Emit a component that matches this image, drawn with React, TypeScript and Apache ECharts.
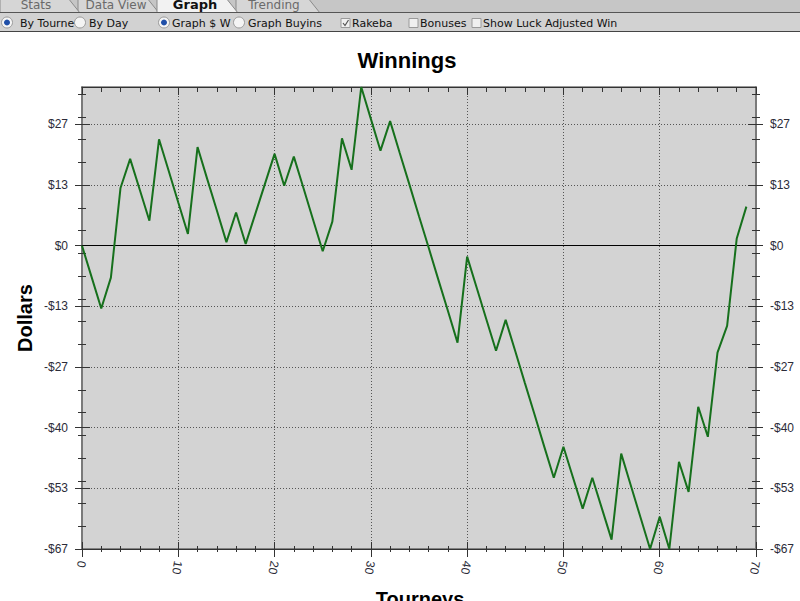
import React, { useEffect, useRef } from "react";
import * as echarts from "echarts";

const tourneys = [
  0, 1, 2, 3, 4, 5, 6, 7, 8, 9, 10, 11, 12, 13, 14, 15, 16, 17, 18, 19, 20, 21, 22, 23, 24,
  25, 26, 27, 28, 29, 30, 31, 32, 33, 34, 35, 36, 37, 38, 39, 40, 41, 42, 43, 44, 45, 46, 47,
  48, 49, 50, 51, 52, 53, 54, 55, 56, 57, 58, 59, 60, 61, 62, 63, 64, 65, 66, 67, 68, 69,
];
const winnings = [
  0, -6.9, -13.8, -7.0, 12.7, 19.1, 12.3, 5.5, 23.4, 16.5, 9.5, 2.6, 21.7, 14.7, 7.8, 0.8, 7.3,
  0.4, 7.0, 13.6, 20.2, 13.2, 19.6, 12.7, 5.7, -1.2, 5.3, 23.6, 16.7, 34.9, 27.9, 20.9, 27.4,
  20.4, 13.5, 6.5, -0.4, -7.4, -14.3, -21.3, -2.4, -9.3, -16.2, -23.1, -16.3, -23.2, -30.2,
  -37.1, -44.1, -51.0, -44.2, -51.0, -57.8, -51.0, -57.8, -64.6, -45.7, -52.7, -59.7, -66.67,
  -59.6, -66.67, -47.5, -54.1, -35.4, -42.0, -23.5, -17.6, 1.6, 8.6,
];
const majorY = [-66.67, -53.33, -40, -26.67, -13.33, 0, 13.33, 26.67];
const minorY = [
  -61.67, -56.67, -51.67, -46.67, -41.67, -36.67, -31.67, -26.67, -21.67, -16.67, -11.67,
  -6.67, -1.67, 3.33, 8.33, 13.33, 18.33, 23.33, 28.33, 33.33,
];
const tabs = ["Stats", "Data View", "Graph", "Trending"];
const optionLabels = [
  "By Tourne", "By Day", "Graph $ W", "Graph Buyins", "Rakeba", "Bonuses", "Show Luck Adjusted Win",
];

const X_MIN = 0;
const X_MAX = 70;

function fmtDollar(v: number) {
  const r = Math.round(Math.abs(v));
  return (v < 0 && r !== 0 ? "-" : "") + "$" + r;
}

export default function App() {
  const ref = useRef<HTMLDivElement>(null);
  useEffect(() => {
    if (!ref.current) return;
    const chart = echarts.init(ref.current, null, { renderer: "svg" });
    const yMin = Math.min(...winnings);
    const yMax = Math.max(...winnings);
    const tickColor = "#333";
    const labelFont = { fontFamily: "Liberation Sans, Arial", fontSize: 12, color: "#2b2b38" };

    const yBase = (pos: "left" | "right", custom: number[], len: number, inside: boolean, labels: boolean, line: boolean, split: boolean) => ({
      type: "value",
      position: pos,
      min: yMin,
      max: yMax,
      axisLine: { show: line, onZero: false, lineStyle: { color: "#7a7a7a", width: 2 } },
      axisTick: { show: true, inside, length: len, customValues: custom, lineStyle: { color: tickColor, width: 1 } },
      axisLabel: labels
        ? { show: true, customValues: custom, margin: 14, formatter: (v: number) => fmtDollar(v), ...labelFont }
        : { show: false },
      splitLine: split
        ? { show: true, lineStyle: { type: [1, 2], color: "#555", width: 1 } }
        : { show: false },
    });

    const xBase = (pos: "top" | "bottom", len: number, minorLen: number, inside: boolean, labels: boolean, split: boolean) => ({
      type: "value",
      position: pos,
      min: X_MIN,
      max: X_MAX,
      interval: 10,
      axisLine: { show: true, onZero: false, lineStyle: { color: "#333", width: 1 } },
      axisTick: { show: true, inside, length: len, lineStyle: { color: tickColor, width: 1 } },
      minorTick: { show: true, splitNumber: 5, length: minorLen, lineStyle: { color: tickColor, width: 1 } },
      axisLabel: labels
        ? { show: true, rotate: -100, margin: 12, ...labelFont, fontSize: 12 }
        : { show: false },
      splitLine: split
        ? { show: true, lineStyle: { type: [1, 2], color: "#555", width: 1 } }
        : { show: false },
    });

    // UI graphic (tab bar + options row)
    const g: any[] = [];
    g.push({ type: "rect", shape: { x: 0, y: 0, width: 800, height: 13 }, style: { fill: "#c6c6c6" }, silent: true });
    const tabX = [0, 78, 157, 236];
    const tabW = [80, 81, 81, 84];
    tabs.forEach((t, i) => {
      const x0 = tabX[i];
      const w = tabW[i];
      const active = t === "Graph";
      g.push({
        type: "polygon",
        shape: { points: [[x0, 13], [x0, -2], [x0 + w - 12, -2], [x0 + w, 13]] },
        style: { fill: active ? "#f2f2f2" : "#d6d6d6", stroke: "#8a8a8a", lineWidth: 1 },
        z: active ? 3 : 2 - i * 0.1,
        silent: true,
      });
    });
    const tabTextX = [36, 116, 195, 274];
    tabs.forEach((t, i) => {
      g.push({
        type: "text",
        x: tabTextX[i],
        y: 4.5,
        z: 5,
        style: {
          text: t,
          fill: t === "Graph" ? "#111" : "#6a6a6a",
          font: (t === "Graph" ? "bold 13px" : "12px") + " 'DejaVu Sans'",
          align: "center",
          verticalAlign: "middle",
        },
        silent: true,
      });
    });
    g.push({ type: "rect", shape: { x: 0, y: 13, width: 800, height: 18 }, style: { fill: "#d2d2d2" }, z: 4, silent: true });
    g.push({ type: "line", shape: { x1: 0, y1: 12.5, x2: 800, y2: 12.5 }, style: { stroke: "#555", lineWidth: 1 }, z: 6, silent: true });
    g.push({ type: "line", shape: { x1: 0, y1: 31.5, x2: 800, y2: 31.5 }, style: { stroke: "#444", lineWidth: 1 }, z: 6, silent: true });
    const radios = [
      { x: 7, on: true }, { x: 80, on: false }, { x: 164, on: true }, { x: 239, on: false },
    ];
    radios.forEach((r) => {
      g.push({ type: "circle", shape: { cx: r.x, cy: 22.5, r: 5.5 }, style: { fill: "#f4f4f4", stroke: "#9a9a9a", lineWidth: 1 }, z: 7, silent: true });
      if (r.on) g.push({ type: "circle", shape: { cx: r.x, cy: 22.5, r: 3 }, style: { fill: "#1f4fa8" }, z: 8, silent: true });
    });
    const checks = [{ x: 341, on: true }, { x: 409, on: false }, { x: 472, on: false }];
    checks.forEach((c) => {
      g.push({ type: "rect", shape: { x: c.x, y: 18.5, width: 9, height: 9 }, style: { fill: "#f0f0f0", stroke: "#9a9a9a", lineWidth: 1 }, z: 7, silent: true });
      if (c.on)
        g.push({
          type: "polyline",
          shape: { points: [[c.x + 2, 23], [c.x + 4, 25.5], [c.x + 7.5, 20]] },
          style: { stroke: "#555", lineWidth: 1.2, fill: null },
          z: 8,
          silent: true,
        });
    });
    const optX = [20, 89, 172, 248, 352, 420, 483];
    optionLabels.forEach((t, i) => {
      g.push({
        type: "text",
        x: optX[i],
        y: 23,
        z: 7,
        style: { text: t, fill: "#111", font: "11px 'DejaVu Sans'", verticalAlign: "middle", align: "left" },
        silent: true,
      });
    });
    // axis titles
    g.push({
      type: "text",
      x: 25,
      y: 318,
      rotation: Math.PI / 2,
      style: { text: "Dollars", fill: "#000", font: "bold 20px 'Liberation Sans', Arial", align: "center", verticalAlign: "middle" },
      silent: true,
    });
    g.push({
      type: "text",
      x: 420,
      y: 589,
      style: { text: "Tourneys", fill: "#000", font: "bold 20px 'Liberation Sans', Arial", align: "center", verticalAlign: "top" },
      silent: true,
    });

    chart.setOption({
      animation: false,
      backgroundColor: "#ffffff",
      title: {
        text: "Winnings",
        left: 402,
        top: 44,
        textAlign: "center",
        textStyle: { fontFamily: "Liberation Sans, Arial", fontWeight: "bold", fontSize: 22, color: "#000" },
      },
      grid: {
        left: 82,
        right: 44,
        top: 87,
        bottom: 52,
        show: true,
        backgroundColor: "#d3d3d3",
        borderColor: "#333",
        borderWidth: 1,
      },
      xAxis: [
        xBase("bottom", 8, 3, false, true, true),
        xBase("bottom", 7, 3, true, false, false),
        xBase("top", 8, 5, true, false, false),
      ],
      yAxis: [
        yBase("left", majorY, 7, false, true, true, true),
        yBase("left", majorY, 8, true, false, false, false),
        yBase("left", minorY, 4, false, false, false, false),
        yBase("left", minorY, 4, true, false, false, false),
        yBase("right", majorY, 7, false, true, true, false),
        yBase("right", majorY, 8, true, false, false, false),
        yBase("right", minorY, 4, false, false, false, false),
        yBase("right", minorY, 4, true, false, false, false),
      ],
      series: [
        {
          type: "line",
          data: tourneys.map((t, i) => [t, winnings[i]]),
          xAxisIndex: 0,
          yAxisIndex: 0,
          showSymbol: false,
          symbol: "none",
          lineStyle: { color: "#16701c", width: 2 },
          markLine: {
            silent: true,
            symbol: "none",
            label: { show: false },
            lineStyle: { color: "#000", type: "solid", width: 1 },
            data: [{ yAxis: 0 }],
          },
          z: 5,
        },
      ],
      graphic: g,
    });
    return () => chart.dispose();
  }, []);
  return (
    <div
      ref={ref}
      style={{ position: "fixed", left: 0, top: 0, width: 800, height: 601 }}
    />
  );
}
